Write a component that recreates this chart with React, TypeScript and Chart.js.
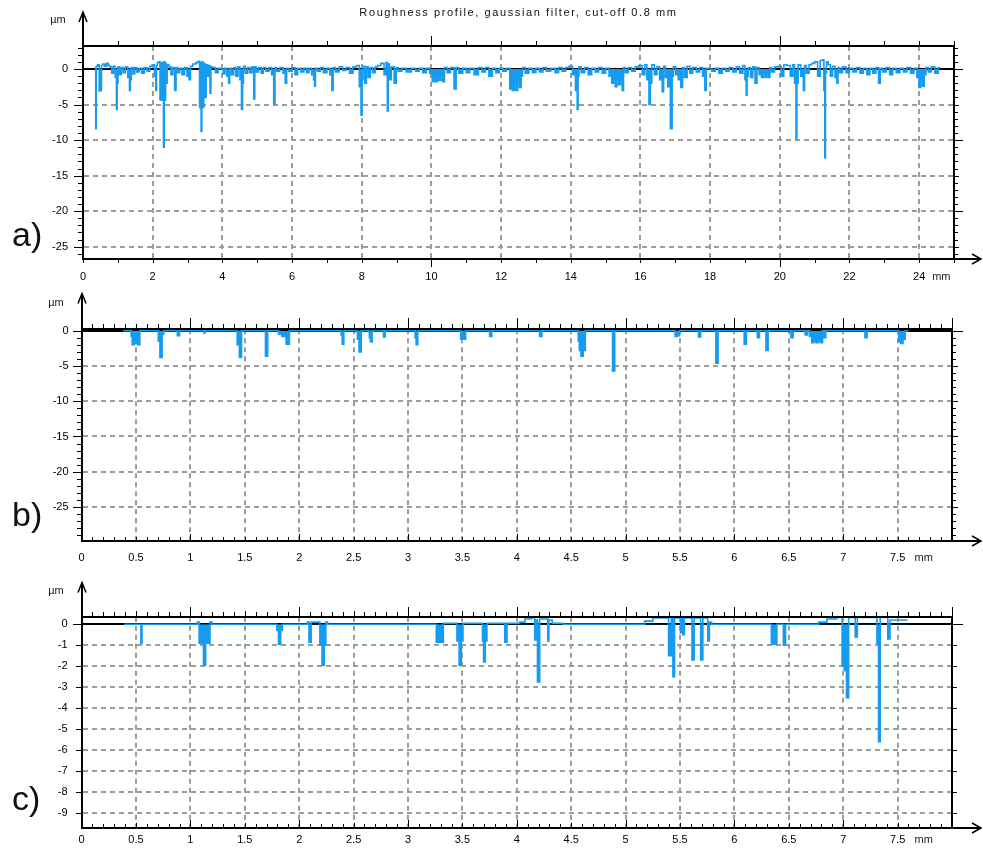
import React, { useEffect, useRef } from 'react';
import { Chart, registerables } from 'chart.js';

Chart.register(...registerables);

const FONT = '"Liberation Sans", Arial, sans-serif';
const BLUE = '#159cf0';
const GRID = '#9c9c9c';

const TITLE = 'Roughness profile, gaussian filter, cut-off 0.8 mm';
const X_UNIT = 'mm';
const Y_UNIT = 'µm';

// ---------- panel a: 0..25 mm ----------
const xTicksA = [0, 2, 4, 6, 8, 10, 12, 14, 16, 18, 20, 22, 24];
const yTicksA = [-25, -20, -15, -10, -5, 0];
const profileA: [number, number][] = [
  [0.36, 0.3], [0.37, -8.4], [0.39, 0.4], [0.45, 0.6], [0.48, -3.1], [0.5, -2.5], [0.52, -3.0], [0.54, 0.5],
  [0.6, 0.7], [0.65, 0.4], [0.7, 0.8], [0.75, 0.5], [0.8, 0.3], [0.85, -0.6], [0.9, 0.4], [0.95, -1.2],
  [0.97, -5.7], [0.99, -2.0], [1.02, 0.3], [1.08, -0.8], [1.12, 0.2], [1.18, -0.5], [1.25, 0.3], [1.32, -1.2],
  [1.35, -3.0], [1.37, -1.5], [1.4, 0.2], [1.47, -0.7], [1.5, 0.2], [1.58, -0.4], [1.65, 0.1], [1.72, -0.6],
  [1.8, 0.2], [1.88, -0.3], [1.95, 0.4], [2.02, 0.6], [2.08, -1.0], [2.1, -3.0], [2.12, 0.5], [2.16, 0.9],
  [2.2, 1.0], [2.22, -4.3], [2.24, 0.8], [2.26, -4.4], [2.28, 0.9], [2.3, -3.5], [2.32, -11.0], [2.34, 1.0],
  [2.36, -4.4], [2.38, 0.8], [2.4, -2.0], [2.43, 0.6], [2.5, 0.3], [2.55, -0.8], [2.6, 0.2], [2.66, -3.0],
  [2.68, 0.2], [2.75, -0.5], [2.8, 0.1], [2.88, -0.8], [2.95, 0.2], [3.02, -1.0], [3.07, -1.5], [3.1, 0.4],
  [3.2, 0.7], [3.28, 0.9], [3.33, 1.1], [3.36, -5.4], [3.38, 0.9], [3.4, -8.8], [3.42, 1.0], [3.45, -5.4],
  [3.48, 0.8], [3.52, -4.0], [3.55, 0.6], [3.6, -1.0], [3.63, 0.5], [3.66, -3.4], [3.68, 0.3], [3.75, 0.2],
  [3.85, -0.5], [3.9, 0.1], [4.0, 0.0], [4.05, -0.7], [4.1, 0.1], [4.16, -1.0], [4.2, -2.0], [4.22, 0.1],
  [4.3, -0.8], [4.35, 0.2], [4.42, -1.0], [4.48, 0.3], [4.53, -1.5], [4.57, -5.7], [4.59, -2.0], [4.62, 0.4],
  [4.7, -0.6], [4.75, 0.2], [4.82, -0.5], [4.88, 0.3], [4.92, -4.2], [4.94, 0.3], [5.0, -0.4], [5.08, 0.2],
  [5.15, -0.6], [5.2, 0.2], [5.3, -0.3], [5.38, 0.2], [5.45, -0.8], [5.5, -4.9], [5.52, 0.2], [5.6, -0.3],
  [5.7, 0.2], [5.78, -0.6], [5.83, -2.0], [5.86, 0.1], [5.95, -0.3], [6.05, 0.2], [6.12, -0.8], [6.2, 0.1],
  [6.3, -0.4], [6.38, 0.1], [6.45, -0.5], [6.52, 0.1], [6.6, -0.8], [6.64, -1.5], [6.66, -2.4], [6.68, 0.1],
  [6.78, -0.3], [6.85, 0.2], [6.95, -0.5], [7.05, 0.1], [7.12, -0.8], [7.17, -3.0], [7.19, 0.2], [7.3, -0.4],
  [7.4, 0.3], [7.5, -0.2], [7.6, 0.2], [7.7, -0.6], [7.8, 0.3], [7.9, 0.5], [7.96, -2.5], [8.0, -6.5],
  [8.02, -1.5], [8.05, 0.4], [8.12, -2.0], [8.15, 0.3], [8.22, -1.2], [8.27, 0.2], [8.35, -0.5], [8.42, 0.3],
  [8.5, 0.5], [8.6, 0.8], [8.68, -0.8], [8.72, 0.9], [8.75, -5.9], [8.77, 0.7], [8.82, -1.5], [8.88, 0.3],
  [8.98, -2.0], [9.0, 0.2], [9.1, -0.3], [9.2, 0.1], [9.35, -0.4], [9.5, 0.1], [9.6, -0.3], [9.7, 0.1],
  [9.8, -0.5], [9.9, 0.1], [10.0, -0.6], [10.05, -1.8], [10.1, -1.2], [10.15, -1.8], [10.2, -1.0], [10.25, -1.6],
  [10.3, -0.8], [10.35, -1.8], [10.4, 0.2], [10.5, -0.5], [10.6, 0.2], [10.7, -2.8], [10.72, 0.2], [10.85, -0.6],
  [10.95, 0.1], [11.05, -0.5], [11.15, 0.1], [11.3, -0.8], [11.4, 0.2], [11.5, -0.4], [11.6, 0.2], [11.7, -1.0],
  [11.8, 0.1], [11.9, -0.5], [12.0, 0.1], [12.1, -0.3], [12.2, 0.1], [12.3, -2.8], [12.35, -3.0], [12.4, -2.0],
  [12.45, -3.0], [12.5, -1.8], [12.55, -2.6], [12.6, -1.0], [12.63, 0.2], [12.75, -0.6], [12.85, 0.1], [12.95, -0.5],
  [13.05, 0.1], [13.15, -0.4], [13.25, 0.2], [13.35, -0.3], [13.5, 0.1], [13.6, -0.5], [13.7, 0.2], [13.8, -0.3],
  [13.9, 0.2], [14.0, 0.4], [14.1, -0.8], [14.17, -3.0], [14.2, -5.7], [14.22, -1.0], [14.25, 0.3], [14.35, -0.5],
  [14.45, 0.2], [14.55, -0.8], [14.65, 0.1], [14.75, -0.4], [14.85, 0.2], [14.95, -0.6], [15.05, 0.1], [15.15, -1.0],
  [15.2, -2.0], [15.25, -1.5], [15.3, -2.5], [15.35, -1.2], [15.4, -2.2], [15.45, -1.5], [15.5, -3.0], [15.53, 0.2],
  [15.6, -0.5], [15.7, 0.2], [15.8, -0.3], [15.9, 0.3], [16.0, 0.5], [16.1, -0.8], [16.15, 0.6], [16.22, -1.5],
  [16.27, -5.0], [16.3, -2.0], [16.35, 0.6], [16.45, -0.8], [16.5, 0.3], [16.6, -1.5], [16.65, -3.2], [16.68, 0.4],
  [16.75, -1.2], [16.82, -2.5], [16.9, -8.4], [16.92, -1.0], [16.97, 0.3], [17.05, -0.8], [17.12, -1.5], [17.2, -2.6],
  [17.22, 0.2], [17.3, -1.2], [17.38, 0.4], [17.45, -0.6], [17.55, 0.2], [17.65, -0.4], [17.75, 0.2], [17.82, -1.0],
  [17.88, -3.0], [17.9, 0.1], [18.0, 0.0], [18.1, -0.3], [18.2, 0.1], [18.3, -0.6], [18.4, 0.1], [18.5, -0.3],
  [18.6, 0.2], [18.7, -0.4], [18.8, 0.3], [18.9, -0.6], [18.98, 0.5], [19.02, -1.5], [19.05, -3.7], [19.07, -1.0],
  [19.12, 0.2], [19.2, -1.2], [19.25, 0.3], [19.33, -2.0], [19.36, 0.2], [19.45, -0.8], [19.5, -1.2], [19.55, -0.6],
  [19.6, -1.2], [19.65, -0.5], [19.7, -1.2], [19.73, 0.2], [19.8, -0.4], [19.9, 0.3], [20.0, 0.4], [20.08, -1.0],
  [20.15, 0.6], [20.25, 0.5], [20.35, -1.0], [20.4, 0.6], [20.45, -2.0], [20.48, -9.8], [20.5, -2.0], [20.55, 0.6],
  [20.65, -1.0], [20.7, -3.0], [20.72, 0.5], [20.8, -0.6], [20.88, 0.6], [20.95, 0.8], [21.05, 1.0], [21.12, -1.0],
  [21.2, 1.2], [21.25, 1.3], [21.28, -3.0], [21.3, -12.5], [21.32, -0.5], [21.36, 1.0], [21.42, 0.6], [21.48, -1.0],
  [21.55, 0.4], [21.62, -1.2], [21.66, -2.0], [21.68, 0.2], [21.75, -0.5], [21.85, 0.3], [21.95, -0.5], [22.05, 0.1],
  [22.15, -0.4], [22.25, 0.2], [22.35, -0.6], [22.45, 0.1], [22.55, -0.8], [22.62, 0.1], [22.72, -0.6], [22.8, 0.2],
  [22.87, -2.0], [22.9, 0.1], [23.0, -0.4], [23.1, 0.2], [23.2, -0.8], [23.28, 0.1], [23.4, -0.5], [23.5, 0.1],
  [23.6, -0.4], [23.7, 0.2], [23.8, -0.6], [23.9, 0.1], [23.97, -1.2], [24.02, -2.6], [24.07, -1.5], [24.12, -2.4],
  [24.17, -0.8], [24.22, 0.2], [24.3, -0.4], [24.4, 0.3], [24.5, -0.6], [24.6, 0.2],
];

// ---------- panel b: 0..8 mm ----------
const xTicksB = [0, 0.5, 1, 1.5, 2, 2.5, 3, 3.5, 4, 4.5, 5, 5.5, 6, 6.5, 7, 7.5];
const yTicksB = [-25, -20, -15, -10, -5, 0];
const profileB: [number, number][] = [
  [0.38, 0], [0.45, 0], [0.46, -0.8], [0.47, -2.0], [0.5, -1.8], [0.53, -2.0], [0.54, 0], [0.7, 0],
  [0.71, -1.5], [0.73, -3.8], [0.75, -0.5], [0.76, 0], [0.87, 0], [0.89, -0.7], [0.91, 0], [1.12, 0],
  [1.13, -0.3], [1.14, 0], [1.42, 0], [1.44, -2.0], [1.46, -3.8], [1.48, 0], [1.68, 0], [1.7, -3.6],
  [1.72, 0], [1.8, 0], [1.82, -0.5], [1.86, -0.8], [1.9, -1.9], [1.92, 0], [2.38, 0], [2.39, -0.6],
  [2.4, -1.9], [2.42, 0], [2.53, 0], [2.54, -1.2], [2.56, -3.0], [2.58, 0], [2.64, 0], [2.65, -1.0],
  [2.66, -1.6], [2.68, 0], [2.77, 0], [2.78, -0.9], [2.8, 0], [3.06, 0], [3.07, -1.0], [3.08, -2.0],
  [3.1, 0], [3.48, 0], [3.49, -1.2], [3.51, -1.0], [3.52, -1.2], [3.54, 0], [3.74, 0], [3.76, -0.8],
  [3.78, 0], [4.2, 0], [4.22, -0.8], [4.24, 0], [4.56, 0], [4.57, -1.5], [4.58, -2.8], [4.6, -3.6],
  [4.62, -2.8], [4.64, 0], [4.87, 0], [4.89, -5.7], [4.91, 0], [5.45, 0], [5.46, -0.8], [5.49, -0.7],
  [5.5, 0], [5.66, 0], [5.68, -0.9], [5.7, 0], [5.82, 0], [5.84, -4.6], [5.86, 0], [6.08, 0],
  [6.1, -1.9], [6.12, 0], [6.2, 0], [6.22, -1.0], [6.24, 0], [6.28, 0], [6.3, -2.8], [6.32, 0],
  [6.51, 0], [6.53, -1.0], [6.55, 0], [6.64, 0], [6.66, -0.6], [6.68, 0], [6.7, -0.8], [6.72, -1.7],
  [6.74, -1.5], [6.76, -1.7], [6.78, -1.5], [6.8, -1.7], [6.82, 0], [6.83, -1.0], [6.85, 0], [7.19, 0],
  [7.21, -1.0], [7.23, 0], [7.5, 0], [7.52, -1.6], [7.54, -1.8], [7.56, -1.2], [7.58, 0], [7.6, 0],
];

// ---------- panel c: 0..8 mm ----------
const xTicksC = [0, 0.5, 1, 1.5, 2, 2.5, 3, 3.5, 4, 4.5, 5, 5.5, 6, 6.5, 7, 7.5];
const yTicksC = [-9, -8, -7, -6, -5, -4, -3, -2, -1, 0];
const profileC: [number, number][] = [
  [0.39, 0], [0.54, 0], [0.55, -0.9], [0.56, 0], [1.06, 0], [1.07, 0.1], [1.09, -0.9], [1.11, -0.9],
  [1.13, -1.95], [1.15, -0.9], [1.17, -0.9], [1.19, 0.1], [1.21, 0], [1.79, 0], [1.8, -0.3], [1.82, -0.95],
  [1.84, -0.3], [1.85, 0], [2.07, 0], [2.08, 0.1], [2.1, -0.85], [2.12, 0.1], [2.18, 0.1], [2.2, -1.0],
  [2.22, -1.95], [2.24, -1.0], [2.25, 0.1], [2.27, 0], [3.25, 0], [3.27, -0.85], [3.3, -0.85], [3.32, -0.85],
  [3.33, 0.05], [3.44, 0.05], [3.46, -0.8], [3.48, -1.95], [3.5, -0.8], [3.51, 0.05], [3.68, 0.05], [3.69, -0.8],
  [3.7, -1.8], [3.72, -0.8], [3.73, 0.05], [3.88, 0.05], [3.9, -0.85], [3.92, 0.05], [4.0, 0.05], [4.05, 0.1],
  [4.1, 0.25], [4.16, 0.3], [4.17, -0.75], [4.18, 0.2], [4.2, -2.75], [4.22, 0.25], [4.28, 0.25], [4.29, -0.8],
  [4.3, 0.2], [4.35, 0.05], [4.5, 0], [5.15, 0], [5.2, 0.15], [5.3, 0.3], [5.38, 0.3], [5.41, -1.5],
  [5.43, 0.3], [5.44, -2.5], [5.46, 0.3], [5.5, 0.3], [5.51, -0.4], [5.52, 0.3], [5.53, -0.5], [5.55, 0.3],
  [5.6, 0.3], [5.62, -1.7], [5.64, 0.3], [5.68, 0.3], [5.7, -1.7], [5.72, 0.3], [5.75, 0.3], [5.76, -0.8],
  [5.78, 0.1], [5.8, 0], [6.33, 0], [6.35, -0.95], [6.38, -0.95], [6.4, 0], [6.44, 0], [6.46, -1.0],
  [6.48, 0], [6.75, 0], [6.8, 0.1], [6.9, 0.25], [6.98, 0.32], [7.0, -2.0], [7.02, -2.2], [7.04, -3.5],
  [7.06, 0.32], [7.1, 0.32], [7.12, -0.6], [7.14, 0.32], [7.3, 0.32], [7.32, -0.9], [7.33, -5.6], [7.35, 0.32],
  [7.4, 0.32], [7.42, -0.7], [7.44, 0.2], [7.5, 0.2], [7.59, 0.2],
];

// ---------- layout / style (kept apart from data) ----------
type Mark = { side: 'top' | 'bottom' | 'left' | 'right'; step?: number; values?: number[]; len: number; dir?: number };
type Panel = {
  key: string; label: string; title?: string; top: number; height: number;
  xMin: number; xMax: number; yMin: number; yMax: number;
  xTicks: number[]; yTicks: number[]; profile: [number, number][];
  padTop: number; padRight: number; yWidth: number; xHeight: number;
  xLabelPad: number; yLabelPad: number; arrowTop: number; arrowRight: number;
  umX: number; umY: number; mmDx: number; mmDy: number; labelY: number; marks: Mark[];
};

const panels: Panel[] = [
  {
    key: 'a', label: 'a)', title: TITLE, top: 0, height: 290,
    xMin: 0, xMax: 25, yMin: -26.73, yMax: 3.24,
    xTicks: xTicksA, yTicks: yTicksA, profile: profileA,
    padTop: 46, padRight: 29, yWidth: 83, xHeight: 31, xLabelPad: 11, yLabelPad: 15,
    arrowTop: 12, arrowRight: 981, umX: 58, umY: 20, mmDx: 13, mmDy: 18, labelY: 246,
    marks: [
      { side: 'top', step: 1, len: 4 }, { side: 'top', values: [10, 20], len: 9 },
      { side: 'bottom', step: 1, len: 3 }, { side: 'bottom', values: [10, 20], len: 7 },
      { side: 'left', step: 1, len: 4 }, { side: 'left', step: 5, len: 8 },
      { side: 'right', step: 1, len: 3 }, { side: 'right', step: 5, len: 4 }, { side: 'right', values: [0, -10, -20], len: 8 },
    ],
  },
  {
    key: 'b', label: 'b)', top: 290, height: 290,
    xMin: 0, xMax: 8, yMin: -29.82, yMax: 0.2,
    xTicks: xTicksB, yTicks: yTicksB, profile: profileB,
    padTop: 39.3, padRight: 31, yWidth: 81.6, xHeight: 39, xLabelPad: 10, yLabelPad: 13,
    arrowTop: 3.5, arrowRight: 981, umX: 56, umY: 13, mmDx: 17, mmDy: 17, labelY: 236,
    marks: [
      { side: 'top', step: 0.1, len: 4 }, { side: 'top', step: 1, len: 10 },
      { side: 'bottom', step: 0.1, len: 3, dir: -1 }, { side: 'bottom', step: 1, len: 6, dir: -1 },
      { side: 'left', step: 1, len: 4 }, { side: 'left', step: 5, len: 8 },
      { side: 'right', step: 1, len: 3 }, { side: 'right', step: 5, len: 5 }, { side: 'right', values: [0], len: 10 },
    ],
  },
  {
    key: 'c', label: 'c)', top: 580, height: 276,
    xMin: 0, xMax: 8, yMin: -9.71, yMax: 0.36,
    xTicks: xTicksC, yTicks: yTicksC, profile: profileC,
    padTop: 36.7, padRight: 31, yWidth: 81.6, xHeight: 28, xLabelPad: 5, yLabelPad: 14,
    arrowTop: 2.5, arrowRight: 981, umX: 56, umY: 11, mmDx: 17, mmDy: 12, labelY: 230,
    marks: [
      { side: 'top', step: 0.1, len: 4 }, { side: 'top', step: 0.5, len: 5 }, { side: 'top', step: 1, len: 9 },
      { side: 'bottom', step: 0.1, len: 3, dir: -1 }, { side: 'bottom', step: 0.5, len: 4, dir: -1 }, { side: 'bottom', step: 1, len: 7, dir: -1 },
      { side: 'left', step: 1, len: 5 }, { side: 'left', values: [0], len: 8 },
      { side: 'right', step: 1, len: 4 }, { side: 'right', values: [0], len: 10 },
    ],
  },
];

function stepValues(min: number, max: number, step: number): number[] {
  const out: number[] = [];
  const i0 = Math.ceil(min / step - 1e-9);
  const i1 = Math.floor(max / step + 1e-9);
  for (let i = i0; i <= i1; i++) out.push(Math.round(i * step * 1000) / 1000);
  return out;
}

function makeDecor(p: Panel) {
  return {
    id: 'decor_' + p.key,
    afterDraw(chart: any) {
      const { ctx, chartArea: ca } = chart;
      const xs = chart.scales.x;
      const ys = chart.scales.y;
      const L = Math.round(ca.left);
      const R = Math.round(ca.right);
      const T = Math.round(ca.top);
      const B = Math.round(ca.bottom);
      ctx.save();
      ctx.strokeStyle = '#000';
      ctx.lineCap = 'butt';
      const seg = (x1: number, y1: number, x2: number, y2: number, w: number) => {
        ctx.lineWidth = w;
        ctx.beginPath();
        ctx.moveTo(x1, y1);
        ctx.lineTo(x2, y2);
        ctx.stroke();
      };
      // frame (top and right)
      seg(L - 1, T, R + 1, T, 2);
      seg(R, T - 1, R, B + 1, 2);
      // axis extensions
      seg(L, T + 1, L, p.arrowTop + 1, 2);
      seg(R - 1, B, p.arrowRight - 1, B, 2);
      // arrowheads
      ctx.lineWidth = 1.5;
      ctx.beginPath();
      ctx.moveTo(L - 4, p.arrowTop + 10);
      ctx.lineTo(L, p.arrowTop);
      ctx.lineTo(L + 4, p.arrowTop + 10);
      ctx.stroke();
      ctx.beginPath();
      ctx.moveTo(p.arrowRight - 9, B - 5);
      ctx.lineTo(p.arrowRight, B);
      ctx.lineTo(p.arrowRight - 9, B + 5);
      ctx.stroke();
      // tick marks
      for (const m of p.marks) {
        const isX = m.side === 'top' || m.side === 'bottom';
        const sc = isX ? xs : ys;
        const vals = m.values ?? stepValues(sc.min, sc.max, m.step as number);
        for (const v of vals) {
          if (v < sc.min - 1e-9 || v > sc.max + 1e-9) continue;
          const px = Math.round(sc.getPixelForValue(v)) + 0.5;
          if (m.side === 'top') seg(px, T, px, T - 1 - m.len, 1);
          else if (m.side === 'bottom') seg(px, B, px, B + (m.dir ?? 1) * (1 + m.len), 1);
          else if (m.side === 'left') seg(L, px, L - 1 - m.len, px, 1);
          else seg(R, px, R + 1 + m.len, px, 1);
        }
      }
      // texts
      ctx.fillStyle = '#222';
      ctx.font = `11px ${FONT}`;
      ctx.textBaseline = 'middle';
      ctx.textAlign = 'center';
      ctx.fillText(Y_UNIT, p.umX, p.umY);
      ctx.textAlign = 'left';
      const lastX = p.xTicks[p.xTicks.length - 1];
      ctx.fillText(X_UNIT, xs.getPixelForValue(lastX) + p.mmDx, B + p.mmDy);
      if (p.title) {
        ctx.fillStyle = '#111';
        ctx.textAlign = 'center';
        (ctx as any).letterSpacing = '1.6px';
        ctx.fillText(p.title, (ca.left + ca.right) / 2, 13);
        (ctx as any).letterSpacing = '0px';
      }
      ctx.fillStyle = '#111';
      ctx.font = `34px ${FONT}`;
      ctx.textAlign = 'left';
      ctx.textBaseline = 'alphabetic';
      ctx.fillText(p.label, 12, p.labelY);
      ctx.restore();
    },
  };
}

function PanelChart({ p }: { p: Panel }) {
  const ref = useRef<HTMLCanvasElement>(null);
  useEffect(() => {
    const canvas = ref.current;
    if (!canvas) return;
    const chart = new Chart(canvas, {
      type: 'line',
      data: {
        datasets: [
          {
            data: p.profile.map(([x, y]) => ({ x, y })),
            borderColor: BLUE,
            backgroundColor: BLUE,
            borderWidth: 1.6,
            pointRadius: 0,
            tension: 0,
            stepped: 'middle',
            fill: { target: { value: 0 }, above: 'rgba(0,0,0,0)', below: BLUE },
          },
        ],
      },
      options: {
        responsive: false,
        animation: false,
        devicePixelRatio: 1,
        events: [],
        layout: { padding: { top: p.padTop, right: p.padRight, left: 0, bottom: 0 } },
        plugins: {
          legend: { display: false },
          tooltip: { enabled: false },
          title: { display: false },
          filler: { propagate: false },
        },
        scales: {
          x: {
            type: 'linear',
            position: 'bottom',
            min: p.xMin,
            max: p.xMax,
            afterBuildTicks: (s: any) => { s.ticks = p.xTicks.map((v) => ({ value: v })); },
            afterFit: (s: any) => { s.height = p.xHeight; },
            ticks: {
              autoSkip: false,
              maxRotation: 0,
              padding: p.xLabelPad,
              color: '#000',
              font: { family: FONT, size: 11 },
              callback: (v: any) => String(v),
            },
            grid: {
              drawTicks: false,
              lineWidth: 2,
              color: (c: any) => (c.tick && c.tick.value === 0 ? 'rgba(0,0,0,0)' : GRID),
            },
            border: { display: true, color: '#000', width: 2, dash: (c: any) => (c.tick ? [5, 4] : []) },
          },
          y: {
            type: 'linear',
            position: 'left',
            min: p.yMin,
            max: p.yMax,
            afterBuildTicks: (s: any) => { s.ticks = p.yTicks.map((v) => ({ value: v })); },
            afterFit: (s: any) => { s.width = p.yWidth; },
            ticks: {
              autoSkip: false,
              padding: p.yLabelPad,
              color: '#000',
              font: { family: FONT, size: 11 },
              callback: (v: any) => String(v),
            },
            grid: {
              drawTicks: false,
              lineWidth: 2,
              color: (c: any) => (c.tick && c.tick.value === 0 ? '#000' : GRID),
            },
            border: {
              display: true, color: '#000', width: 2,
              dash: (c: any) => (c.tick && c.tick.value !== 0 ? [5, 4] : []),
            },
          },
        },
      },
      plugins: [makeDecor(p)],
    } as any);
    return () => chart.destroy();
  }, [p]);
  return (
    <canvas
      ref={ref}
      width={983}
      height={p.height}
      style={{ position: 'absolute', left: 0, top: p.top, width: 983, height: p.height }}
    />
  );
}

export default function App() {
  return (
    <div style={{ position: 'absolute', left: 0, top: 0, width: 983, height: 856, background: '#fff', overflow: 'hidden' }}>
      {panels.map((p) => (
        <PanelChart key={p.key} p={p} />
      ))}
    </div>
  );
}
